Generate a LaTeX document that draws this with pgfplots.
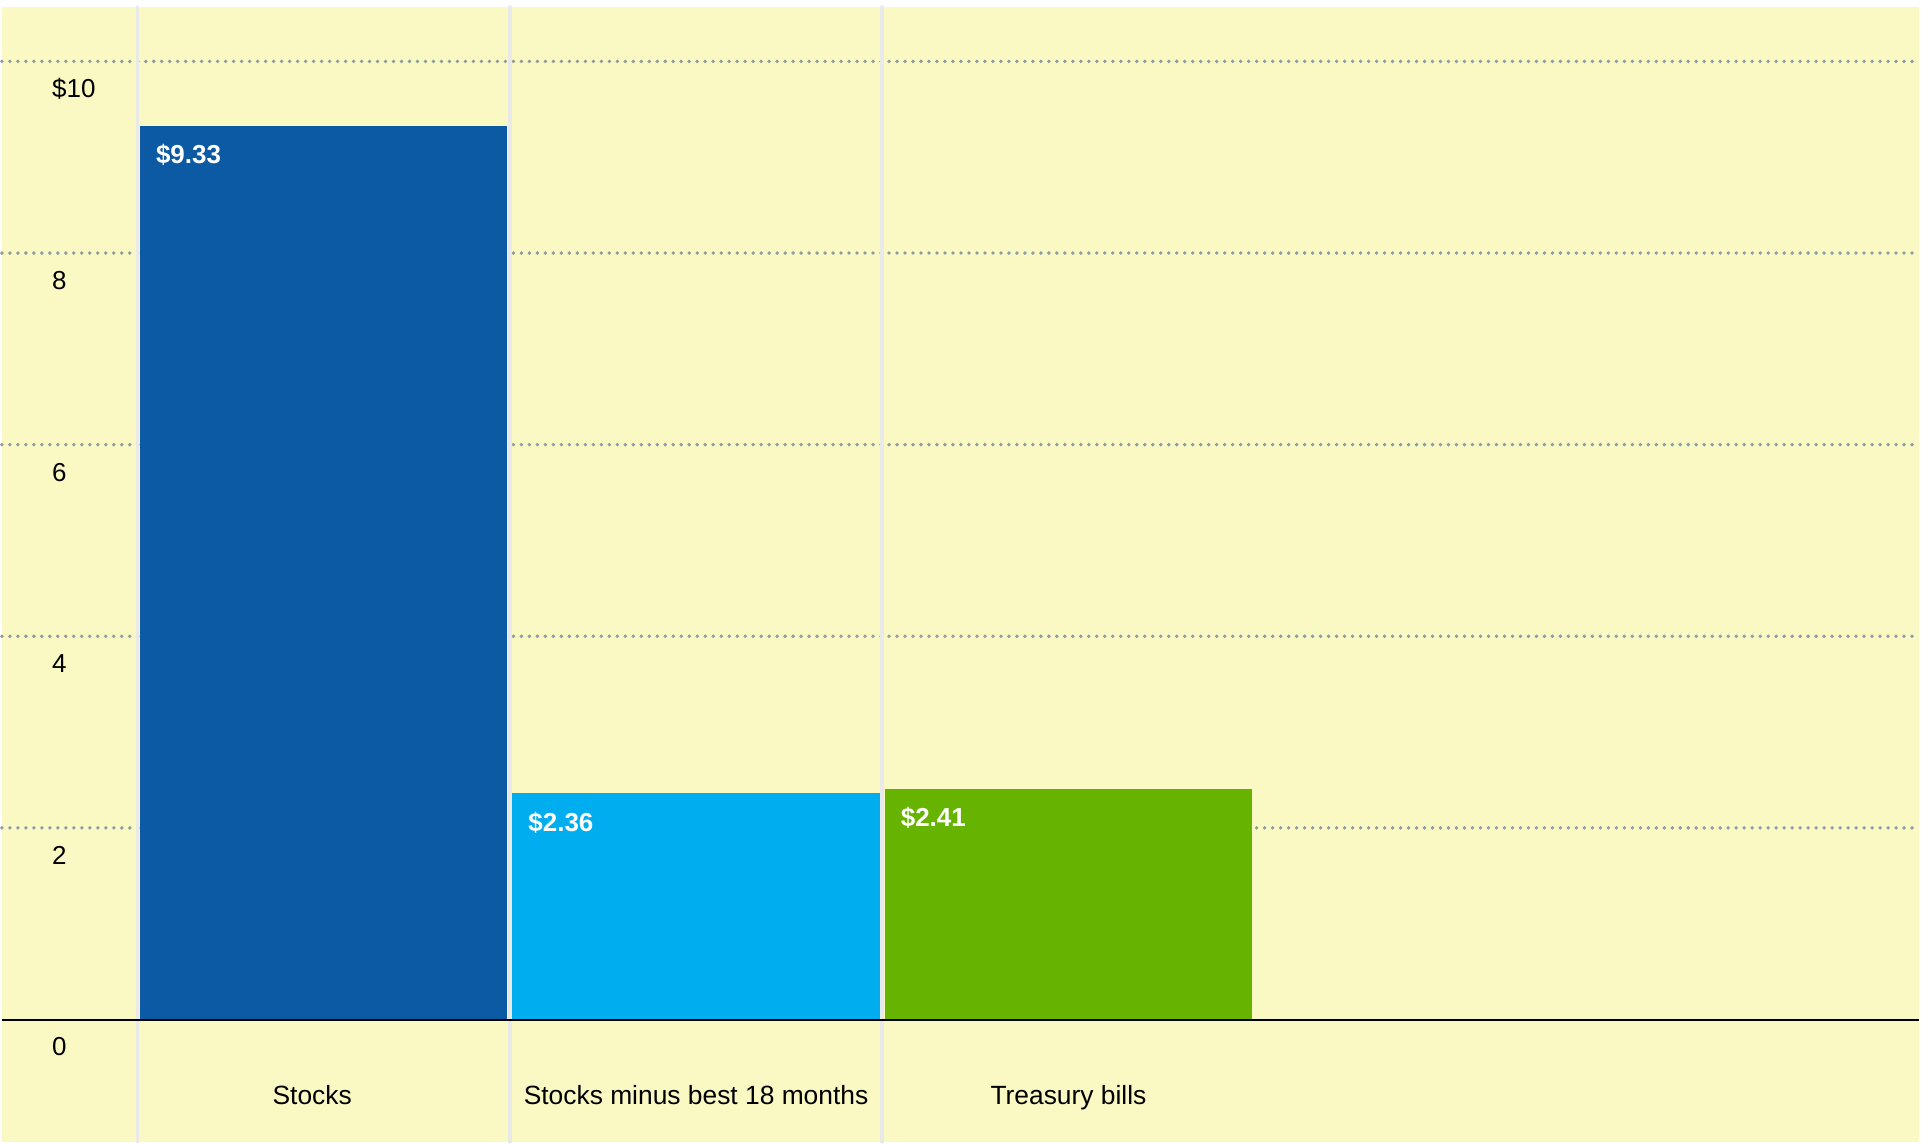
\documentclass[border=0pt]{standalone}
\usepackage{fontspec}
\setmainfont{Liberation Sans}
\usepackage{pgfplots}
\pgfplotsset{compat=1.18}
\definecolor{bgyel}{HTML}{FAF9C3}
\definecolor{gridc}{HTML}{8C9CA4}
\definecolor{sepc}{HTML}{E9E9E9}
\definecolor{cA}{HTML}{0C59A4}
\definecolor{cB}{HTML}{00AEEF}
\definecolor{cC}{HTML}{66B400}
\begin{document}
\begin{tikzpicture}
\begin{axis}[
  scale only axis, width=959.5pt, height=568pt,
  xmin=-0.864, xmax=4.284, ymin=-1.277, ymax=10.568,
  axis background/.style={fill=bgyel},
  axis line style={draw=none},
  major tick length=0pt,
  /pgf/number format/assume math mode=true,
  ytick={2,4,6,8,10}, yticklabels={2,4,6,8,\$10},
  extra y ticks={0}, extra y tick labels={0},
  extra y tick style={ymajorgrids=false},
  ymajorgrids=true,
  major grid style={gridc, line width=1.9pt, line cap=round, dash pattern=on 0pt off 4pt},
  yticklabel style={anchor=base west, inner sep=0pt, xshift=25pt, yshift=-18.2pt, font=\fontsize{13}{15}\selectfont},
  xtick={0,1,2}, xticklabels={Stocks\hspace*{11.5pt}, Stocks minus best 18 months, Treasury bills},
  xticklabel style={anchor=base, inner sep=0pt, yshift=18.75pt, font=\fontsize{13.2}{15}\selectfont},
  extra x ticks={-0.5,0.5,1.5}, extra x tick labels={},
  extra x tick style={xmajorgrids=true, major grid style={sepc, line width=1.8pt, solid}},
  ybar, bar width=183.8pt, bar shift=0pt,
  nodes near coords={\$\pgfmathprintnumber[fixed,precision=2,fixed zerofill]{\pgfplotspointmeta}},
  nodes near coords style={anchor=base west, inner sep=0pt, text=white, font=\bfseries\fontsize{13}{15}\selectfont, xshift=-84.1pt, yshift=-19pt},
]
\addplot[fill=cA, draw=none] coordinates {(0,9.33)};
\addplot[fill=cB, draw=none] coordinates {(1,2.36)};
\addplot[fill=cC, draw=none] coordinates {(2,2.41)};
\draw[black, line width=1pt] (axis cs:-0.864,0) -- (axis cs:4.284,0);
\end{axis}
\path ([xshift=1pt,yshift=3.5pt]current axis.north east);
\end{tikzpicture}
\end{document}
